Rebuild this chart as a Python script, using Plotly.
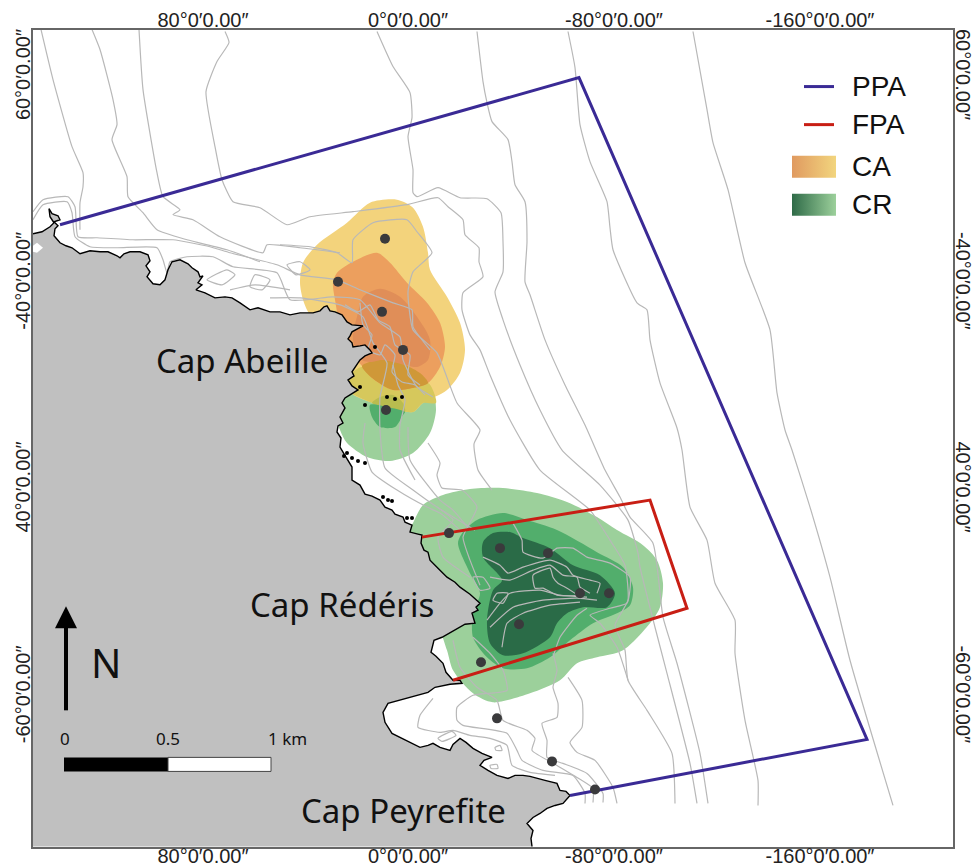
import plotly.graph_objects as go

# ---- axis labels ----
LON_TICKS = [203, 408, 614, 820]
LON_LABELS = ["80°0′0.00″", "0°0′0.00″", "-80°0′0.00″", "-160°0′0.00″"]
LAT_TICKS = [78, 284, 490, 697]
LAT_LABELS = ["60°0′0.00″", "-40°0′0.00″", "40°0′0.00″", "-60°0′0.00″"]

# ---- land / coast ----
COAST = [(33,234),(42,232),(50,227),(54,223),(50,217),(49,209),(52,214),(58,216),(60,220),(54,222),(58,226),(55,229),(54,236),(60,243),(66,246),(72,248),(80,254),(84,253),(90,251),(100,252),(108,252),(117,256),(120,258),(124,254),(130,252),(140,252),(148,255),(150,261),(146,266),(150,272),(147,277),(153,284),(160,285),(165,280),(168,270),(172,262),(180,260),(188,264),(192,268),(198,272),(200,277),(203,276),(198,283),(202,285),(196,290),(205,293),(215,298),(225,297),(232,298),(240,303),(250,310),(258,308),(270,312),(280,312),(290,315),(300,313),(313,313),(320,311),(324,307),(327,306),(330,311),(335,312),(342,315),(347,322),(352,325),(363,326),(356,330),(352,332),(350,336),(348,339),(352,343),(353,347),(360,346),(365,345),(370,350),(372,353),(365,356),(360,360),(356,366),(352,372),(354,376),(348,380),(352,386),(358,390),(350,395),(345,398),(342,403),(345,408),(340,417),(343,423),(338,426),(337,432),(341,438),(340,447),(346,457),(352,467),(352,480),(360,485),(365,494),(372,496),(380,500),(385,507),(392,510),(395,514),(403,517),(405,522),(412,525),(410,532),(418,534),(422,535),(421,543),(424,550),(428,552),(430,560),(438,568),(447,577),(455,582),(460,587),(470,594),(480,603),(476,607),(478,610),(472,613),(475,623),(465,624),(458,628),(450,632),(442,637),(434,640),(433,645),(431,652),(436,656),(443,663),(446,672),(450,677),(453,680),(460,680),(462,683),(450,684),(435,687),(428,692),(417,695),(408,697),(400,699),(388,703),(383,712),(385,722),(392,733),(400,737),(408,741),(420,747),(428,745),(433,743),(440,747),(450,750),(453,744),(460,738),(466,742),(473,748),(482,753),(492,757),(484,760),(480,765),(488,770),(497,775),(508,778),(515,775),(523,775),(530,776),(545,780),(557,783),(560,790),(566,791),(570,795),(565,800),(563,803),(555,805),(547,808),(540,813),(533,817),(527,823),(533,830),(531,838),(532,846)]
LAND_CORNERS = [(33,846)]
INLET = [(33,246),(37,243),(43,248),(37,253),(33,252)]

# ---- density surfaces ----
CR_OUTER_N = [(340,430),(347,443),(367,457),(390,461),(413,453),(430,433),(436,410),(432,387),(420,373),(397,362),(377,360),(357,363),(345,380),(335,410)]
CR_OUTER_S = [(413,523),(423,505),(443,495),(470,489),(503,488),(537,493),(567,502),(597,517),(617,530),(643,545),(657,560),(663,583),(660,607),(650,623),(623,650),(597,657),(577,663),(560,680),(530,693),(493,702),(473,693),(453,670),(447,650),(430,600),(405,540)]
CR_MID_S = [(458,543),(463,532),(477,520),(503,513),(527,520),(557,530),(597,552),(623,567),(633,587),(630,605),(617,613),(593,623),(570,640),(550,657),(527,668),(503,668),(487,657),(473,637),(473,613),(480,593),(470,573)]
CR_HIGH_S = [(483,542),(493,533),(510,532),(523,538),(550,548),(573,565),(600,575),(615,593),(607,607),(583,607),(567,613),(557,623),(550,637),(523,653),(503,655),(490,643),(487,620),(493,590),(502,580),(483,557)]
CA_OUTER = [(300,283),(303,263),(317,245),(347,223),(370,203),(397,200),(413,208),(423,227),(428,253),(430,270),(447,297),(460,323),(465,350),(460,373),(447,390),(423,403),(413,412),(387,407),(370,402),(350,392),(340,360),(308,312),(303,300)]
CA_MID = [(333,283),(337,273),(353,262),(377,253),(390,263),(407,283),(427,303),(440,323),(445,347),(440,367),(428,383),(413,388),(393,390),(372,378),(362,366),(345,345),(335,300)]
CA_HIGH = [(358,313),(363,297),(380,289),(400,297),(417,317),(430,340),(428,360),(417,367),(405,365),(383,360),(370,362),(362,360),(353,340)]
MIX_LOW = [(352,373),(363,367),(372,378),(393,390),(413,388),(428,383),(432,388),(436,403),(423,403),(413,412),(387,407),(370,402),(350,392),(345,385)]
MIX_MID = [(362,366),(378,360),(397,362),(420,373),(428,383),(413,388),(393,390),(372,378)]
MIX_DARK = [(372,403),(380,397),(393,395),(403,403),(405,412),(387,407)]
CR_MID_N = [(370,405),(372,417),(380,427),(395,427),(403,415),(405,412),(387,407)]

# ---- depth contours ----
CONTOURS = [
 [(41,30),(53,80),(72,147),(83,173),(83,187),(80,203),(80,230)],
 [(92,30),(100,50),(113,100),(117,125),(112,140),(127,177),(128,197),(143,213),(157,230),(187,240),(227,250),(260,262)],
 [(139,30),(143,90),(157,173),(163,197),(180,210),(173,215),(193,220),(220,237),(263,253),(267,245),(300,248),(340,253)],
 [(225,32),(229,43),(217,62),(206,92),(215,147),(222,180),(233,202),(260,208),(287,225),(310,217),(353,212),(407,205),(438,198),(448,207),(463,220),(465,235),(479,248),(479,262),(483,277),(463,293),(462,310),(470,335),(480,350),(490,375),(510,420),(540,470),(590,510),(610,540),(625,565),(628,600),(615,625),(625,650),(628,680),(647,710),(672,753),(675,803)],
 [(377,32),(393,67),(410,93),(412,118),(408,137),(413,170),(413,193),(417,197),(438,188),(460,198),(487,199),(501,213),(503,242),(503,272),(495,292),(503,320),(520,365),(540,410),(562,450),(600,485),(628,520),(638,553),(640,567),(655,627),(667,673),(690,763),(697,803)],
 [(477,32),(483,82),(487,103),(492,122),(508,140),(512,162),(515,185),(525,202),(527,242),(525,282),(530,295),(545,340),(565,385),(585,425),(605,470),(620,497),(630,517),(653,543),(663,617),(677,663),(700,753),(708,803)],
 [(568,32),(575,68),(580,125),(590,162),(607,202),(610,228),(613,250),(637,303),(647,310),(650,340),(660,383),(677,428),(682,450),(690,507),(707,540),(715,583),(735,620),(735,653),(745,720),(758,780),(758,805)],
 [(693,32),(707,110),(713,143),(728,190),(745,263),(770,330),(777,393),(785,430),(792,450),(810,507),(830,577),(850,660),(893,805)],
 [(33,212),(43,200),(68,197),(75,207),(78,237),(97,238),(133,240),(173,240),(210,247),(230,253),(277,265),(300,275),(337,280),(360,290),(393,303),(412,310),(413,327),(430,350)],
 [(33,220),(43,205),(67,202),(72,213),(75,237),(90,247),(117,248),(157,248),(163,260),(167,273),(170,262),(187,257),(213,257),(233,267),(277,273),(290,300),(333,297),(360,300),(380,323),(400,337),(403,360),(417,387),(433,397)],
 [(270,298),(300,298),(340,305),(363,317),(373,343),(387,363),(380,397),(380,430),(385,468),(413,490),(437,507),(475,530)],
 [(280,245),(310,247),(337,253),(352,263),(353,240),(373,223),(407,220),(417,232),(432,253),(413,272),(408,292),(413,330),(437,353),(457,403),(480,430),(474,444),(478,470),(492,490)],
 [(365,423),(363,443),(372,472),(397,490),(427,507),(440,513),(460,530)],
 [(408,427),(410,460),(440,500),(453,510),(470,530)],
 [(428,443),(440,463),(437,475),(442,488),(462,490),(477,507),(463,537),(470,560),(480,585)],
 [(437,507),(453,520),(438,537),(443,557),(470,577)],
 [(513,523),(522,540),(523,552),(543,558),(557,548),(573,548),(587,557),(610,563),(630,577),(627,603),(610,608),(590,615),(600,623),(617,647),(628,680)],
 [(483,557),(500,565),(508,573),(523,567),(550,560),(567,567),(573,575),(590,580),(600,583),(597,593)],
 [(490,577),(510,580),(533,570),(550,565),(563,575),(577,577),(580,587),(590,593)],
 [(533,575),(550,568),(553,577),(558,583),(567,588),(577,595),(557,595),(543,588),(535,588),(533,575)],
 [(487,620),(500,603),(510,593),(540,590),(560,595),(587,597)],
 [(490,627),(513,607),(543,600),(577,598),(597,600)],
 [(502,647),(507,623),(523,613),(550,605),(580,602)],
 [(553,657),(560,637),(577,615),(587,608)],
 [(473,577),(483,577),(490,588),(480,590),(473,577)],
 [(497,593),(508,593),(503,603),(493,600),(497,593)],
 [(453,640),(460,667),(477,687),(497,700),(503,720),(527,730),(535,738),(532,750),(557,765),(577,777),(593,788),(593,802)],
 [(473,637),(490,653),(503,670),(507,690),(473,695),(457,707),(457,720),(463,725),(507,733),(517,750),(522,760),(543,770),(573,775),(585,793),(585,803)],
 [(553,653),(557,670),(553,687),(558,703),(557,717),(542,723),(547,740),(547,757),(563,763),(587,773),(603,793),(603,802)],
 [(568,677),(582,700),(582,727),(570,742),(577,752),(595,760),(613,787),(617,803)],
 [(433,698),(420,715),(418,727),(440,732),(453,730),(470,735),(490,738),(507,745),(512,765),(530,772),(555,775)],
 [(360,303),(363,325),(372,335),(368,350),(380,355),(385,345),(395,355),(392,372),(402,382),(415,385),(425,395)],
 [(345,305),(358,312),(370,305),(378,320),(390,327),(395,345),(410,355),(408,375),(420,385)],
 [(393,365),(398,385),(405,400),(400,425),(400,450),(415,480)],
 [(207,280),(227,270),(235,275),(222,285),(207,280)],
 [(255,275),(270,280),(262,290),(250,287),(255,275)],
 [(287,265),(300,262),(310,270),(296,275),(287,265)],
 [(230,290),(255,285),(290,290)],
 [(495,747),(500,745),(502,750),(496,750),(495,747)],
 [(490,765),(497,764),(498,768),(491,768),(490,765)],
 [(438,738),(452,731),(456,735),(442,741),(438,738)],
]

# ---- small rocks, points ----
ROCKS_X = [387,395,402,360,365,347,352,358,365,388,383,407,412,375,344,392]
ROCKS_Y = [397,399,397,387,405,453,458,461,463,500,497,518,518,347,456,501]
STATIONS_X = [385,338,382,403,386,449,500,548,580,609,519,481,497,552,595]
STATIONS_Y = [239,282,312,350,410,533,548,553,593,593,624,662,718,761,789]

# ---- protected areas ----
PPA = [(60,225),(579,78),(867,739),(570,795)]
FPA = [(422,537),(650,500),(687,608),(453,680)]

# ---- map furniture ----
ARROW_SHAFT = [(66,710),(66,625)]
ARROW_HEAD = [(66,606),(77,628),(55,628)]
SCALE_BLACK = [(64,757),(168,757),(168,771),(64,771)]
SCALE_WHITE = [(168,757),(271,757),(271,771),(168,771)]
LEG_PPA = [(804,87),(834,87)]
LEG_FPA = [(804,125),(834,125)]
LEG_CA = [(792,156),(836,156),(836,178),(792,178)]
LEG_CR = [(792,194),(836,194),(836,216),(792,216)]

fig = go.Figure()


def xs(p):
    return [q[0] for q in p]


def ys(p):
    return [q[1] for q in p]


def poly(p, color, shape="linear"):
    fig.add_trace(go.Scatter(x=xs(p) + [p[0][0]], y=ys(p) + [p[0][1]], mode="lines", fill="toself",
                             fillcolor=color, line=dict(width=0, shape=shape, smoothing=0.8),
                             hoverinfo="skip", showlegend=False))


def line(p, color, width, shape="linear"):
    fig.add_trace(go.Scatter(x=xs(p), y=ys(p), mode="lines",
                             line=dict(color=color, width=width, shape=shape, smoothing=0.5),
                             hoverinfo="skip", showlegend=False))


# density
poly(CR_OUTER_N, "#9cd09b", "spline")
poly(CR_OUTER_S, "#9cd09b", "spline")
poly(CR_MID_S, "#52ae6c", "spline")
poly(CR_HIGH_S, "#2a6b47", "spline")
poly(CA_OUTER, "#f3d37c", "spline")
poly(MIX_LOW, "#d6c85c", "spline")
poly(CA_MID, "#ec9f5e", "spline")
poly(MIX_MID, "#cf9838", "spline")
poly(CA_HIGH, "#e08e58", "spline")
poly(MIX_DARK, "#b9bc4f", "spline")
poly(CR_MID_N, "#52ae6c", "spline")

# land
poly(COAST + LAND_CORNERS, "#c0c0c0")
poly(INLET, "#ffffff")

# contours
for c in CONTOURS:
    line(c, "#b8b8b8", 1.2, "spline")

# coast
line(COAST, "#000000", 1.4)
fig.add_trace(go.Scatter(x=ROCKS_X, y=ROCKS_Y, mode="markers", marker=dict(color="#000000", size=4),
                         hoverinfo="skip", showlegend=False))

# areas
line(PPA, "#3a2a95", 3)
line(FPA, "#c81e14", 3)
fig.add_trace(go.Scatter(x=STATIONS_X, y=STATIONS_Y, mode="markers", marker=dict(color="#3a3a3c", size=10),
                         hoverinfo="skip", showlegend=False))

# north arrow, scale bar
line(ARROW_SHAFT, "#000000", 4)
poly(ARROW_HEAD, "#000000")
poly(SCALE_BLACK, "#000000")
poly(SCALE_WHITE, "#ffffff")
line(SCALE_WHITE + [SCALE_WHITE[0]], "#444444", 1)

# legend
line(LEG_PPA, "#3a2a95", 3)
line(LEG_FPA, "#c81e14", 3)
for box, c0, c1 in [(LEG_CA, "#e09a60", "#f2d57e"), (LEG_CR, "#2f6b48", "#9cd09b")]:
    fig.add_trace(go.Scatter(x=xs(box) + [box[0][0]], y=ys(box) + [box[0][1]], mode="lines", fill="toself",
                             line=dict(width=0), hoverinfo="skip", showlegend=False,
                             fillgradient=dict(type="horizontal", colorscale=[[0, c0], [1, c1]])))

# secondary axes carrier
fig.add_trace(go.Scatter(x=[LON_TICKS[0]], y=[LAT_TICKS[0]], xaxis="x2", yaxis="y2", mode="markers",
                         marker=dict(opacity=0), hoverinfo="skip", showlegend=False))

TXT = "Liberation Sans"
MAP = "Noto Sans"
for text, x, y, size, fam, anchor in [
    ("Cap Abeille", 242, 361, 33, MAP, "center"),
    ("Cap Rédéris", 342, 604, 33, MAP, "center"),
    ("Cap Peyrefite", 403, 810, 33, MAP, "center"),
    ("N", 106, 662, 40, MAP, "center"),
    ("0", 65, 738, 17, MAP, "center"),
    ("0.5", 168, 738, 17, MAP, "center"),
    ("1 km", 287, 738, 17, MAP, "center"),
    ("PPA", 850, 87, 28, TXT, "left"),
    ("FPA", 850, 125, 28, TXT, "left"),
    ("CA", 850, 167, 28, TXT, "left"),
    ("CR", 850, 205, 28, TXT, "left"),
]:
    fig.add_annotation(x=x, y=y, text=text, showarrow=False, xanchor=anchor, yanchor="middle",
                       font=dict(family=fam, size=size, color="#111111"))

XR = [33, 953]
YR = [846.5, 30.5]
tick = dict(family=TXT, size=20, color="#222222")
common = dict(showgrid=False, zeroline=False, ticks="", showline=True, linecolor="#666666", linewidth=2,
              automargin=False)
fig.update_layout(
    width=977, height=868, margin=dict(l=33, r=24, t=30, b=21),
    paper_bgcolor="#ffffff", plot_bgcolor="#ffffff", showlegend=False,
    xaxis=dict(range=XR, tickvals=LON_TICKS, ticktext=LON_LABELS, tickfont=tick, side="bottom", ticklabelstandoff=-10, **common),
    xaxis2=dict(range=XR, tickvals=LON_TICKS, ticktext=LON_LABELS, tickfont=tick, side="top", overlaying="x", ticklabelstandoff=-7, **common),
    yaxis=dict(range=YR, tickvals=LAT_TICKS, ticktext=LAT_LABELS, tickfont=tick, tickangle=-90, side="left", ticklabelstandoff=-7, **common),
    yaxis2=dict(range=YR, tickvals=LAT_TICKS, ticktext=LAT_LABELS, tickfont=tick, tickangle=90, side="right", overlaying="y", ticklabelstandoff=-7, **common),
)
fig.write_html("out.html", config=dict(displayModeBar=False),
               post_script="document.body.style.margin='0';")
